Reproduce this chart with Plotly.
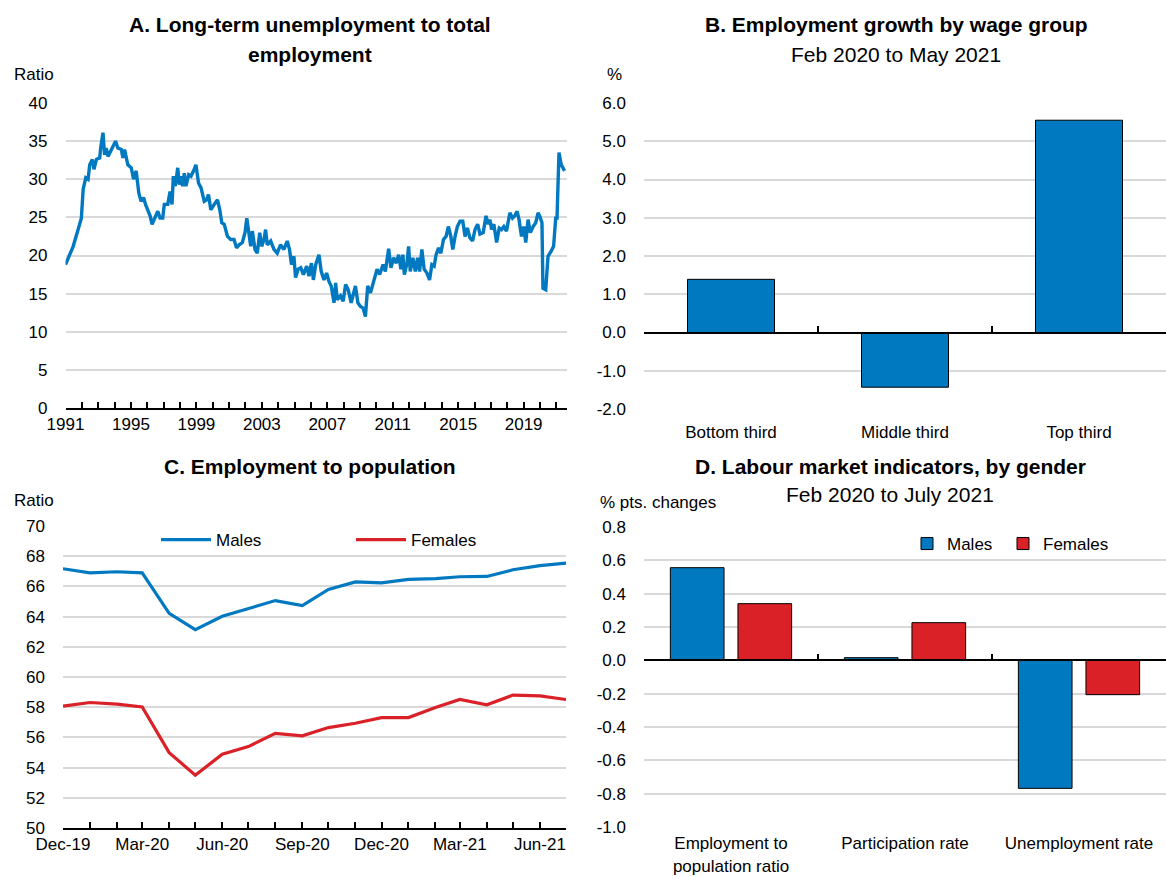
import plotly.graph_objects as go

W, H = 1166, 877
BLUE = "#0079C1"
RED = "#DA2128"
GRID = "#D9D9D9"
FONT = "Liberation Sans Narrow, Arial Narrow, Liberation Sans, Arial"

# ---------------- Panel A: long-term unemployment to total employment ----------------
a_year = [1991.00, 1991.47, 1991.77, 1991.97, 1992.08, 1992.24, 1992.38, 1992.48, 1992.64, 1992.74,
          1992.89, 1993.09, 1993.15, 1993.29, 1993.39, 1993.49, 1993.60, 1993.70, 1993.90, 1994.06,
          1994.20, 1994.41, 1994.51, 1994.61, 1994.81, 1995.02, 1995.16, 1995.32, 1995.48, 1995.62,
          1995.77, 1995.89, 1996.03, 1996.17, 1996.29, 1996.44, 1996.64, 1996.78, 1996.94, 1997.04,
          1997.25, 1997.39, 1997.51, 1997.59, 1997.71, 1997.86, 1997.96, 1998.06, 1998.16, 1998.26,
          1998.36, 1998.53, 1998.67, 1998.87, 1998.97, 1999.13, 1999.28, 1999.48, 1999.62, 1999.74,
          1999.88, 2000.09, 2000.29, 2000.43, 2000.55, 2000.70, 2000.90, 2001.10, 2001.30, 2001.45,
          2001.61, 2001.81, 2001.97, 2002.08, 2002.22, 2002.32, 2002.42, 2002.58, 2002.72, 2002.87,
          2002.99, 2003.13, 2003.23, 2003.33, 2003.54, 2003.74, 2003.94, 2004.14, 2004.35, 2004.55,
          2004.69, 2004.81, 2004.96, 2005.06, 2005.22, 2005.38, 2005.54, 2005.74, 2005.88, 2006.03,
          2006.15, 2006.29, 2006.49, 2006.63, 2006.80, 2006.96, 2007.10, 2007.24, 2007.41, 2007.51,
          2007.61, 2007.81, 2007.97, 2008.12, 2008.28, 2008.46, 2008.72, 2008.87, 2009.03, 2009.19,
          2009.33, 2009.47, 2009.64, 2009.84, 2010.04, 2010.20, 2010.41, 2010.55, 2010.75, 2010.89,
          2011.06, 2011.22, 2011.36, 2011.50, 2011.62, 2011.71, 2011.87, 2011.97, 2012.07, 2012.23,
          2012.38, 2012.52, 2012.64, 2012.78, 2012.92, 2013.09, 2013.25, 2013.39, 2013.53, 2013.65,
          2013.80, 2013.94, 2014.10, 2014.26, 2014.40, 2014.55, 2014.67, 2014.81, 2014.95, 2015.11,
          2015.28, 2015.42, 2015.56, 2015.72, 2015.88, 2016.03, 2016.19, 2016.33, 2016.53, 2016.70,
          2016.84, 2016.94, 2017.04, 2017.18, 2017.35, 2017.51, 2017.65, 2017.79, 2017.95, 2018.16,
          2018.32, 2018.46, 2018.60, 2018.72, 2018.87, 2019.01, 2019.13, 2019.27, 2019.41, 2019.58,
          2019.74, 2019.88, 2019.98, 2020.12, 2020.18, 2020.35, 2020.49, 2020.69, 2020.83, 2020.96,
          2021.04, 2021.16, 2021.30, 2021.50]
a_ratio = [18.8, 21.2, 23.4, 24.9, 28.7, 30.2, 30.0, 31.9, 32.6, 31.3,
           32.6, 32.8, 34.1, 36.1, 33.2, 34.1, 33.0, 33.5, 34.3, 35.0,
           34.1, 33.9, 32.8, 33.9, 31.9, 31.5, 30.0, 31.1, 28.2, 27.1,
           27.6, 26.7, 26.0, 25.2, 24.1, 24.9, 25.8, 24.9, 24.9, 26.7,
           26.7, 28.4, 26.7, 30.4, 29.1, 31.5, 29.3, 30.4, 29.1, 30.8,
           29.1, 30.6, 30.4, 31.3, 31.9, 29.5, 28.9, 27.1, 27.3, 28.0,
           26.0, 26.7, 27.3, 26.0, 24.3, 24.1, 22.5, 22.1, 22.1, 21.0,
           21.4, 21.7, 23.0, 24.9, 22.5, 21.2, 23.2, 20.8, 20.3, 23.0,
           21.2, 22.1, 23.4, 21.4, 21.9, 20.8, 20.3, 21.4, 20.8, 21.9,
           20.8, 18.8, 19.9, 17.1, 18.2, 18.4, 17.5, 18.6, 17.3, 19.0,
           16.8, 18.8, 20.1, 17.9, 16.8, 17.7, 16.6, 16.0, 13.8, 16.4,
           14.2, 14.7, 14.0, 16.2, 15.5, 13.8, 16.0, 13.8, 13.3, 13.1,
           12.0, 16.0, 15.1, 16.8, 18.2, 17.5, 18.8, 17.9, 20.9, 18.4,
           19.7, 19.0, 20.1, 18.2, 20.1, 17.5, 19.0, 21.2, 17.9, 19.7,
           17.9, 19.7, 17.9, 20.8, 18.2, 17.7, 16.8, 18.8, 18.6, 20.1,
           21.0, 20.3, 22.1, 22.5, 23.8, 22.5, 20.8, 22.5, 23.8, 24.5,
           24.5, 22.5, 23.6, 22.3, 21.9, 23.4, 24.1, 22.8, 23.0, 25.2,
           24.1, 24.7, 23.4, 24.1, 21.7, 23.6, 23.4, 23.8, 23.2, 25.6,
           24.9, 25.2, 25.8, 24.7, 22.5, 23.8, 21.7, 24.7, 23.0, 23.8,
           24.3, 25.6, 25.2, 24.3, 15.7, 15.5, 19.9, 20.6, 21.2, 24.9,
           24.9, 33.5, 31.9, 31.1]

# ---------------- Panel B: employment growth by wage group ----------------
b_groups = ["Bottom third", "Middle third", "Top third"]
b_growth = [1.39, -1.43, 5.55]
b_ticks = [-2, -1, 0, 1, 2, 3, 4, 5, 6]
b_ticktext = ["-2.0", "-1.0", "0.0", "1.0", "2.0", "3.0", "4.0", "5.0", "6.0"]

# ---------------- Panel C: employment to population ----------------
c_months = ["2019-12-01", "2020-01-01", "2020-02-01", "2020-03-01", "2020-04-01", "2020-05-01",
            "2020-06-01", "2020-07-01", "2020-08-01", "2020-09-01", "2020-10-01", "2020-11-01",
            "2020-12-01", "2021-01-01", "2021-02-01", "2021-03-01", "2021-04-01", "2021-05-01",
            "2021-06-01", "2021-07-01"]
c_males = [67.17, 66.90, 66.97, 66.90, 64.22, 63.14, 64.02, 64.55, 65.06, 64.73,
           65.80, 66.30, 66.24, 66.46, 66.52, 66.64, 66.66, 67.10, 67.37, 67.54]
c_females = [58.07, 58.31, 58.20, 58.02, 54.99, 53.50, 54.88, 55.39, 56.27, 56.10,
             56.65, 56.94, 57.31, 57.31, 57.98, 58.51, 58.16, 58.80, 58.75, 58.51]

# ---------------- Panel D: labour market indicators by gender ----------------
d_indicators = ["Employment to<br>population ratio", "Participation rate", "Unemployment rate"]
d_males = [0.556, 0.016, -0.768]
d_females = [0.340, 0.226, -0.206]
d_ticks = [-1.0, -0.8, -0.6, -0.4, -0.2, 0.0, 0.2, 0.4, 0.6, 0.8]
d_ticktext = ["-1.0", "-0.8", "-0.6", "-0.4", "-0.2", "0.0", "0.2", "0.4", "0.6", "0.8"]


def px_x(v):
    return v / W


def px_y(v):
    return 1 - v / H


# plot-area rectangles (pixels) -> paper domains
A_x, A_y = [px_x(65.5), px_x(567)], [px_y(408), px_y(103)]
B_x, B_y = [px_x(644), px_x(1166)], [px_y(409), px_y(103)]
C_x, C_y = [px_x(63), px_x(566)], [px_y(828), px_y(526)]
D_x, D_y = [px_x(644), px_x(1166)], [px_y(827), px_y(527)]

b_range = [-2, 6]
d_range = [-1.0, 0.8]
c_range = [50, 70]


def zero_pos(dom, rng):
    return dom[0] + (dom[1] - dom[0]) * (0 - rng[0]) / (rng[1] - rng[0])


fig = go.Figure()

fig.add_trace(go.Scatter(x=a_year, y=a_ratio, mode="lines", line=dict(color=BLUE, width=3.4),
                         xaxis="x", yaxis="y", showlegend=False))

fig.add_trace(go.Bar(x=b_groups, y=b_growth, width=0.5,
                     marker=dict(color=BLUE, line=dict(color="black", width=1)),
                     xaxis="x2", yaxis="y2", showlegend=False))

fig.add_trace(go.Scatter(x=c_months, y=c_males, mode="lines", name="Males",
                         line=dict(color=BLUE, width=3.2), xaxis="x3", yaxis="y3", legend="legend"))
fig.add_trace(go.Scatter(x=c_months, y=c_females, mode="lines", name="Females",
                         line=dict(color=RED, width=3.2), xaxis="x3", yaxis="y3", legend="legend2"))

fig.add_trace(go.Bar(x=d_indicators, y=d_males, name="Males",
                     marker=dict(color=BLUE, line=dict(color="black", width=1)),
                     xaxis="x4", yaxis="y4", legend="legend3"))
fig.add_trace(go.Bar(x=d_indicators, y=d_females, name="Females",
                     marker=dict(color=RED, line=dict(color="black", width=1)),
                     xaxis="x4", yaxis="y4", legend="legend4"))

tickfont = dict(family=FONT, size=17, color="black")
yaxis_common = dict(showgrid=True, gridcolor=GRID, gridwidth=2, showline=False, ticks="",
                    zeroline=False, tickfont=tickfont, fixedrange=True, automargin=False)
xtick_common = dict(ticks="inside", ticklen=6, tickwidth=1.5, tickcolor="black",
                    showline=True, linecolor="black", linewidth=1.5, showgrid=False,
                    zeroline=False, automargin=False, tickangle=0, tickfont=tickfont)


def leg(xpx, ypx, iw=30):
    return dict(orientation="h", x=px_x(xpx), y=px_y(ypx), xanchor="left", yanchor="middle",
                itemwidth=iw, bgcolor="rgba(0,0,0,0)", font=dict(family=FONT, size=17))


fig.update_layout(
    template="none",
    width=W, height=H,
    margin=dict(l=0, r=0, t=0, b=0, autoexpand=False),
    paper_bgcolor="white", plot_bgcolor="white",
    font=dict(family=FONT, size=17, color="black"),
    barmode="group",
    bargap=0.223, bargroupgap=0.206,
    xaxis=dict(domain=A_x, anchor="y", range=[1991, 2021.65], tick0=1991, dtick=4,
               minor=dict(dtick=1, ticks="inside", ticklen=6, tickwidth=1.5, tickcolor="black", showgrid=False),
               **xtick_common),
    yaxis=dict(domain=A_y, anchor="x", range=[0, 40], dtick=5, ticklabelstandoff=17, **yaxis_common),
    xaxis2=dict(domain=B_x, anchor="free", position=zero_pos(B_y, b_range), type="category",
                tickson="boundaries", ticklabelstandoff=84, **xtick_common),
    yaxis2=dict(domain=B_y, anchor="x2", range=b_range, tickvals=b_ticks, ticktext=b_ticktext,
                ticklabelstandoff=17, **yaxis_common),
    xaxis3=dict(domain=C_x, anchor="y3", type="date", range=[c_months[0], c_months[-1]],
                tick0=c_months[0], dtick="M3", tickformat="%b-%y",
                minor=dict(dtick="M1", ticks="inside", ticklen=6, tickwidth=1.5, tickcolor="black", showgrid=False),
                **xtick_common),
    yaxis3=dict(domain=C_y, anchor="x3", range=c_range, dtick=2, ticklabelstandoff=17, **yaxis_common),
    xaxis4=dict(domain=D_x, anchor="free", position=zero_pos(D_y, d_range), type="category",
                tickson="boundaries", ticklabelstandoff=168, **xtick_common),
    yaxis4=dict(domain=D_y, anchor="x4", range=d_range, tickvals=d_ticks, ticktext=d_ticktext,
                ticklabelstandoff=17, **yaxis_common),
    legend=leg(156, 540, 50),
    legend2=leg(351, 540, 50),
    legend3=leg(907, 544),
    legend4=leg(1003, 544),
)

title_font = dict(family=FONT, size=21, color="black")
sub_font = dict(family=FONT, size=21, color="black")
unit_font = dict(family=FONT, size=17, color="black")

annotations = [
    dict(text="<b>A. Long-term unemployment to total</b>", x=px_x(310), y=px_y(25),
         xanchor="center", yanchor="middle", font=title_font),
    dict(text="<b>employment</b>", x=px_x(310), y=px_y(55),
         xanchor="center", yanchor="middle", font=title_font),
    dict(text="<b>B. Employment growth by wage group</b>", x=px_x(896), y=px_y(25),
         xanchor="center", yanchor="middle", font=title_font),
    dict(text="Feb 2020 to May 2021", x=px_x(896), y=px_y(55),
         xanchor="center", yanchor="middle", font=sub_font),
    dict(text="<b>C. Employment to population</b>", x=px_x(310), y=px_y(466),
         xanchor="center", yanchor="middle", font=title_font),
    dict(text="<b>D. Labour market indicators, by gender</b>", x=px_x(890), y=px_y(466),
         xanchor="center", yanchor="middle", font=title_font),
    dict(text="Feb 2020 to July 2021", x=px_x(890), y=px_y(494),
         xanchor="center", yanchor="middle", font=sub_font),
    dict(text="Ratio", x=px_x(12), y=px_y(75), xanchor="left", yanchor="middle", font=unit_font),
    dict(text="%", x=px_x(605), y=px_y(75), xanchor="left", yanchor="middle", font=unit_font),
    dict(text="Ratio", x=px_x(12), y=px_y(500), xanchor="left", yanchor="middle", font=unit_font),
    dict(text="% pts. changes", x=px_x(598), y=px_y(502), xanchor="left", yanchor="middle", font=unit_font),
]
for a in annotations:
    a.update(xref="paper", yref="paper", showarrow=False)
fig.update_layout(annotations=annotations)

fig.write_html("out.html")
